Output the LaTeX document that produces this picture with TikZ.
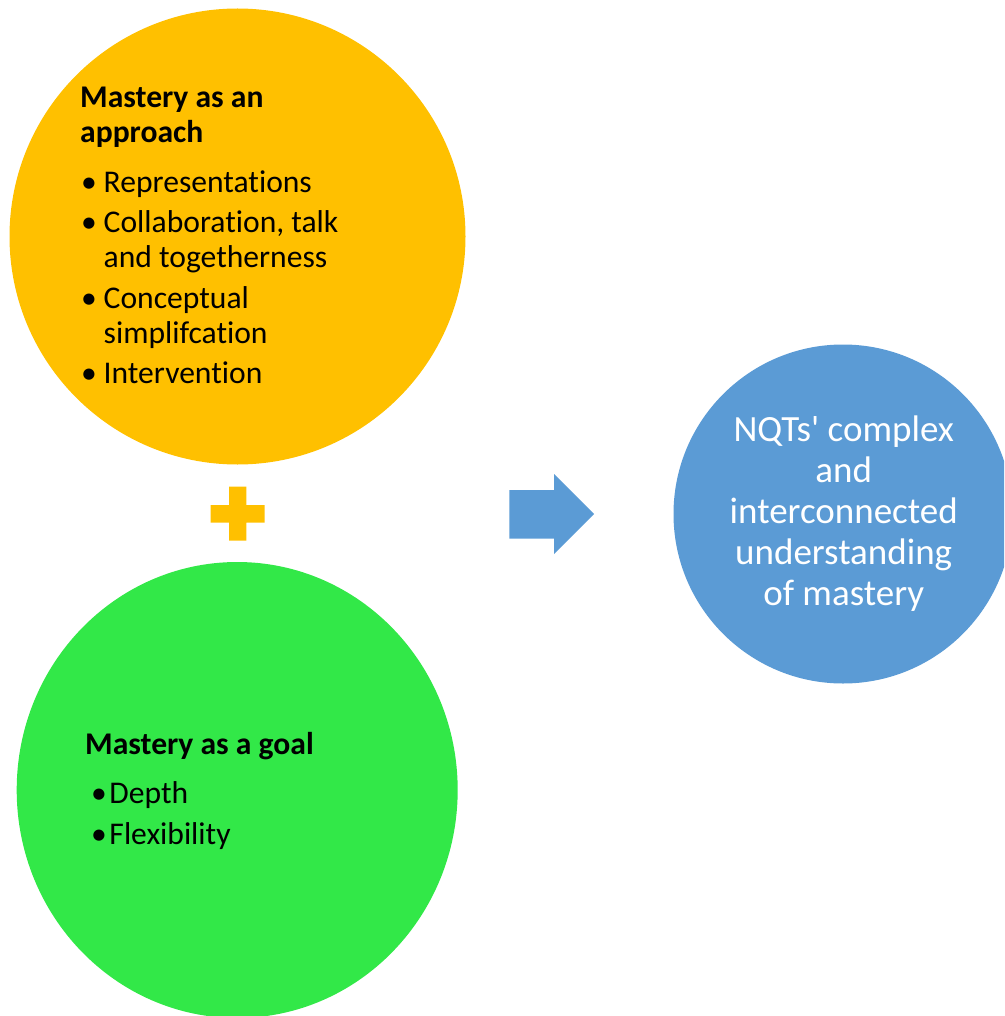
\documentclass[tikz,border=0pt]{standalone}
\usepackage{fontspec}
\setmainfont[Ligatures=NoCommon]{Carlito}
\definecolor{orangeC}{HTML}{FFC000}
\definecolor{greenC}{HTML}{32E848}
\definecolor{blueC}{HTML}{5B9BD5}
\newcommand{\bitem}[1]{\makebox[23.5pt][l]{\hspace{1pt}\textbullet}#1}
\newcommand{\bcont}[1]{\hspace*{23.5pt}#1}
\begin{document}
\begin{tikzpicture}[x=1pt,y=-1pt,
  listtext/.style={inner sep=0pt,anchor=base west,align=left,text=black,font=\fontsize{31.6}{34.6}\selectfont},
  bluetext/.style={inner sep=0pt,anchor=base,align=center,text=white,font=\fontsize{37}{40.8}\selectfont}]
\useasboundingbox (0,0) rectangle (1004,1016);
\clip (0,0) rectangle (1004,1016);
% circles
\fill[orangeC] (237.5,236.5) circle [radius=228];
\fill[greenC] (237.2,790) ellipse [x radius=220.5, y radius=228];
\fill[blueC] (843,514) circle [radius=169.5];
% plus sign
\fill[orangeC] (229,486.7) -- (246.3,486.7) -- (246.3,505) -- (264.7,505) -- (264.7,522.7)
  -- (246.3,522.7) -- (246.3,540.7) -- (229,540.7) -- (229,522.7) -- (210.7,522.7)
  -- (210.7,505) -- (229,505) -- cycle;
% block arrow
\fill[blueC] (509.3,490) -- (554,490) -- (554,474) -- (594,514) -- (554,554) -- (554,538.7) -- (509.3,538.7) -- cycle;
% texts (base anchor = baseline of the last line)
\node[listtext] (approach) at (80,383.3) {%
  \textbf{Mastery as an}\\
  \textbf{approach}\\[15.4pt]
  \bitem{Representations}\\[6.1pt]
  \bitem{Collaboration, talk}\\
  \bcont{and togetherness}\\[6.8pt]
  \bitem{Conceptual}\\
  \bcont{simplifcation}\\[5.4pt]
  \bitem{Intervention}};
\node[listtext] (goal) at (85,844.3) {%
  \textbf{Mastery as a goal}\\[14.7pt]
  \makebox[24.3pt][l]{\hspace{6pt}\textbullet}Depth\\[6.4pt]
  \makebox[24.3pt][l]{\hspace{6pt}\textbullet}Flexibility};
\node[bluetext] (nqt) at (843.7,605) {%
  NQTs\textquotesingle{} complex\\ and\\ interconnected\\ understanding\\ of mastery};
\end{tikzpicture}
\end{document}
